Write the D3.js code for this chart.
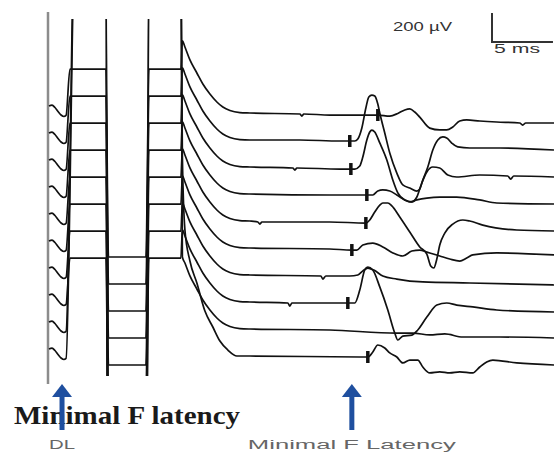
<!DOCTYPE html>
<html>
<head>
<meta charset="utf-8">
<script src="https://cdn.jsdelivr.net/npm/d3@7"></script>
<style>
  body { margin: 0; background: #fff; }
  svg { display: block; }
</style>
</head>
<body>
<div class="canvas"></div>
<script>
// sweep numbers, top to bottom
const traces = [1, 2, 3, 4, 5, 6, 7, 8, 9, 10];

// start of each sweep: small wiggle then the M wave  [ms, µV] (up = positive)
// clamped sweeps sit flat at the amplifier limit
const mwaveClamped = [[0.08, 48], [0.33, 55], [0.57, 38], [0.82, 10], [1.07, -14], [1.31, -24], [1.48, -17],
  [1.80, 303], [4.75, 303], [4.96, -993], [8.03, -993], [8.28, 303], [10.90, 303]];
const mwaveFree = [[0.08, 48], [0.33, 55], [0.57, 38], [0.82, 10], [1.07, -14], [1.31, -24], [1.48, -17],
  [2.21, 2760], [4.75, 2760], [4.96, -2760], [8.03, -2760], [8.28, 2760], [10.90, 2760]];

// return of the M wave to baseline
const fallNear = [[11.02, 497], [11.23, 455], [11.64, 366], [12.21, 276], [12.70, 200], [13.28, 131],
  [13.85, 76], [14.34, 41], [14.92, 17], [15.74, 3]];
const fallFar = [[11.02, 1380], [11.23, 869], [11.64, 655], [12.21, 503], [12.87, 310], [13.52, 200],
  [14.10, 103], [14.75, 41], [15.49, 0]];

const leadType = ['c', 'c', 'c', 'c', 'c', 'c', 'c', 'c', 'f', 'f'];
const fallType = ['n', 'n', 'n', 'n', 'n', 'n', 'n', 'n', 'n', 'f'];

// late part of each sweep with the F waves
const f1 = [[16.56, 0], [20.66, -7], [20.82, -21], [20.98, -7], [23.11, -14], [25.57, -14], [27.05, -14],
  [28.03, -21], [28.69, -3], [29.26, 21], [29.67, 28], [30.08, 7], [30.49, -28], [31.31, -104], [32.13, -117],
  [32.70, -117], [33.20, -97], [33.77, -55], [34.34, -48], [35.41, -55], [36.80, -62], [38.69, -69],
  [38.93, -83], [39.18, -69], [41.5, -69]];
const f2 = [[16.56, 0], [20.66, 0], [23.93, -7], [24.75, -7], [25.16, -7], [25.41, 7], [25.74, 83],
  [26.07, 221], [26.31, 297], [26.56, 310], [26.80, 304], [27.05, 248], [27.21, 186], [27.62, 48],
  [28.03, -90], [28.61, -228], [29.10, -310], [29.67, -331], [30.25, -352], [30.49, -338], [30.74, -276],
  [31.15, -186], [31.56, -69], [31.97, 0], [32.38, 21], [32.70, 14], [33.11, -21], [33.61, -48],
  [34.59, -55], [37.05, -55], [41.5, -69]];
const f3 = [[16.56, 0], [20.08, -7], [20.25, -21], [20.41, -7], [23.93, -14], [24.84, -14], [25.16, -14],
  [25.57, 7], [25.82, 69], [26.15, 186], [26.39, 241], [26.56, 255], [26.80, 241], [27.21, 166],
  [27.79, 48], [28.28, -90], [28.69, -179], [29.26, -228], [29.84, -241], [30.25, -207], [30.66, -110],
  [31.07, -34], [31.56, 0], [32.13, -7], [32.79, -55], [33.52, -69], [35.41, -55], [37.70, -62],
  [37.95, -83], [38.20, -62], [41.5, -69]];
const f4 = [[16.56, 0], [23.11, -7], [26.15, -7], [26.64, -7], [27.05, 21], [27.46, 28], [28.03, 21],
  [28.61, -7], [29.26, -41], [29.67, -55], [30.25, -41], [31.07, -28], [32.13, -21], [33.52, -21],
  [35.41, -41], [36.80, -62], [41.5, -69]];
const f5 = [[16.56, 0], [17.21, -7], [17.38, -21], [17.54, -7], [23.11, -7], [26.07, -14], [26.39, 7],
  [26.80, 62], [27.21, 110], [27.46, 124], [27.87, 124], [28.20, 104], [28.85, 28], [29.67, -76],
  [30.49, -179], [31.07, -228], [31.39, -310], [31.64, -324], [31.89, -262], [32.13, -166], [32.54, -83],
  [33.20, -21], [34.02, 7], [34.59, 0], [35.66, -28], [38.44, -62], [41.5, -69]];
const f6 = [[16.56, 0], [23.11, -7], [24.92, -14], [25.33, -14], [25.82, 21], [26.64, 34], [27.46, 7],
  [28.28, -34], [29.10, -55], [29.84, -21], [30.49, -14], [31.07, -28], [32.13, -55], [32.95, -76],
  [33.77, -90], [34.34, -69], [34.84, -48], [36.80, -34], [41.5, -48]];
const f7 = [[16.56, 0], [22.38, -7], [22.54, -28], [22.79, -7], [24.75, -7], [25.41, 0], [25.82, 28],
  [26.23, 48], [26.72, 34], [27.46, -7], [28.61, -28], [30.74, -48], [34.59, -55], [41.5, -69]];
const f8 = [[16.56, 0], [19.67, -7], [19.84, -28], [20.00, -7], [23.93, -7], [24.59, -7], [25.16, -7],
  [25.57, 83], [25.98, 221], [26.23, 241], [26.64, 221], [27.21, 104], [27.87, -55], [28.44, -214],
  [28.69, -262], [29.10, -235], [29.84, -228], [30.33, -193], [31.07, -104], [31.89, -21], [32.70, -7],
  [33.52, -21], [34.84, -34], [36.80, -55], [41.5, -69]];
const f9 = [[16.56, 0], [23.11, -7], [28.61, -28], [29.92, -28], [31.31, -41], [32.54, -34], [34.02, -55],
  [37.05, -55], [41.5, -62]];
const f10 = [[16.56, 0], [25.57, -7], [26.23, -7], [26.64, 28], [27.05, 76], [27.62, 55], [28.03, 21],
  [28.61, -7], [29.10, -48], [29.67, -28], [30.33, -28], [30.74, -76], [31.31, -117], [32.13, -110],
  [32.95, -117], [33.77, -110], [34.84, -117], [35.41, -76], [35.98, -41], [36.48, -28], [38.44, -48],
  [41.5, -62]];
const fWaves = [f1, f2, f3, f4, f5, f6, f7, f8, f9, f10];

// latency marks: [sweep, ms, µV]
const marks = [[1, 27.05, -14], [2, 24.75, -7], [3, 24.84, -14], [4, 26.15, -7], [5, 26.07, -14],
  [6, 24.92, -14], [8, 24.59, -7], [10, 26.23, -7]];

const arrows = [{ label: 'DL', ms: 1.15 }, { label: 'Minimal F Latency', ms: 24.92 }];

const W = 554, H = 453;

const svg = d3.select(".canvas")
  .append("svg")
    .attr("width", W)
    .attr("height", H);

// SCALES
const x = d3.scaleLinear().domain([0, 41.5]).range([48, 554]);
const base = d3.scalePoint().domain(traces).range([113, 356]);
const amp = d3.scaleLinear().domain([0, 200]).range([0, -29]);

// display window of the machine
svg.append("clipPath").attr("id", "screen")
  .append("rect")
    .attr("x", 48).attr("y", 19)
    .attr("width", W - 48).attr("height", 357);

// left edge of the screen
svg.append("line")
  .attr("x1", x(0)).attr("x2", x(0))
  .attr("y1", 12).attr("y2", 384)
  .attr("stroke", "#8c8c8c")
  .attr("stroke-width", 2.5);

const sweeps = traces.map((k, i) => {
  const lead = leadType[i] === 'c' ? mwaveClamped : mwaveFree;
  const fall = fallType[i] === 'n' ? fallNear : fallFar;
  return { k, pts: lead.concat(fall, fWaves[i]) };
});

const graph = svg.append("g").attr("clip-path", "url(#screen)");

graph.selectAll("path")
  .data(sweeps)
  .enter()
    .append("path")
    .attr("fill", "none")
    .attr("stroke", "#111")
    .attr("stroke-width", 1.7)
    .attr("stroke-linejoin", "round")
    .attr("d", s => d3.line()
      .curve(d3.curveMonotoneX)
      .x(d => x(d[0]))
      .y(d => base(s.k) + amp(d[1]))(s.pts));

// latency marks
graph.selectAll("line.mark")
  .data(marks)
  .enter()
    .append("line")
    .attr("class", "mark")
    .attr("x1", d => x(d[1])).attr("x2", d => x(d[1]))
    .attr("y1", d => base(d[0]) + amp(d[2]) - 6)
    .attr("y2", d => base(d[0]) + amp(d[2]) + 6)
    .attr("stroke", "#111")
    .attr("stroke-width", 3.5);

// scale bar 200 µV / 5 ms
const sb = svg.append("g").attr("transform", "translate(492, 42)");
sb.append("path")
  .attr("d", `M0,${amp(200)}V0H${x(5) - x(0)}`)
  .attr("fill", "none")
  .attr("stroke", "#333")
  .attr("stroke-width", 2);
sb.append("text")
  .attr("x", -99).attr("y", -11)
  .attr("font-family", "Liberation Sans, Arial, sans-serif")
  .attr("font-size", 13)
  .attr("fill", "#333")
  .attr("textLength", 59).attr("lengthAdjust", "spacingAndGlyphs")
  .text("200 µV");
sb.append("text")
  .attr("x", 2).attr("y", 11)
  .attr("font-family", "Liberation Sans, Arial, sans-serif")
  .attr("font-size", 13)
  .attr("fill", "#333")
  .attr("textLength", 46).attr("lengthAdjust", "spacingAndGlyphs")
  .text("5 ms");

// bold caption
svg.append("text")
  .attr("x", 14).attr("y", 424)
  .attr("font-family", "Liberation Serif, Times New Roman, serif")
  .attr("font-weight", "bold")
  .attr("font-size", 26)
  .attr("fill", "#1a1a1a")
  .attr("textLength", 226).attr("lengthAdjust", "spacingAndGlyphs")
  .text("Minimal F latency");

// blue arrows + gray labels
const arr = svg.selectAll("g.arrow")
  .data(arrows)
  .enter()
    .append("g")
    .attr("class", "arrow")
    .attr("transform", d => `translate(${x(d.ms)}, 0)`);

arr.append("rect")
  .attr("x", -2.5).attr("y", 395)
  .attr("width", 5).attr("height", 35)
  .attr("fill", "#1f4f9f");
arr.append("path")
  .attr("d", "M0,384L10,397H-10Z")
  .attr("fill", "#1f4f9f");
arr.append("text")
  .attr("y", 449)
  .attr("text-anchor", "middle")
  .attr("font-family", "Liberation Sans, Arial, sans-serif")
  .attr("font-size", 12)
  .attr("fill", "#666")
  .attr("textLength", d => d.label === 'DL' ? 26 : 208)
  .attr("lengthAdjust", "spacingAndGlyphs")
  .text(d => d.label);
</script>
</body>
</html>
